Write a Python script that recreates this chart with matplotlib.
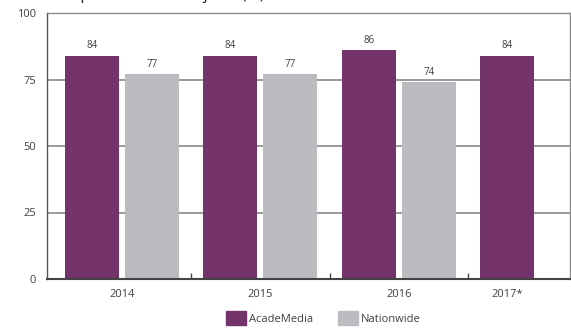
import numpy as np
import matplotlib
matplotlib.use("Agg")
import matplotlib.pyplot as plt
from matplotlib.patches import Patch

# Data
years = ['2014', '2015', '2016', '2017*']
academedia = [84, 84, 86, 84]
nationwide = [77, 77, 74, None]
yticks = [0, 25, 50, 75, 100]

PURPLE = '#74346b'
GREY = '#bbbcbf'
TEXT = '#404040'

plt.rcParams['font.family'] = ['Open Sans', 'DejaVu Sans']

fig = plt.figure(figsize=(5.71, 3.29), dpi=100)
ax = fig.add_axes([47 / 571, 50 / 329, 523 / 571, 266 / 329])

width = 0.39
gap = 0.043
x = np.arange(len(years))
x_purple = x - width / 2 - gap / 2
x_grey = x + width / 2 + gap / 2

ax.bar(x_purple, academedia, width=width, color=PURPLE, zorder=3)
nw_idx = [i for i, v in enumerate(nationwide) if v is not None]
nw_vals = [nationwide[i] for i in nw_idx]
ax.bar(x_grey[nw_idx], nw_vals, width=width, color=GREY, zorder=3)

for xi, v in zip(x_purple, academedia):
    ax.annotate(str(v), (xi, v), xytext=(0, 3), textcoords='offset points',
                ha='center', va='bottom', fontsize=7, color=TEXT)
for i, v in zip(nw_idx, nw_vals):
    ax.annotate(str(v), (x_grey[i], v), xytext=(0, 3), textcoords='offset points',
                ha='center', va='bottom', fontsize=7, color=TEXT)

ax.set_ylim(0, 100)
ax.set_xlim(-0.54, 3.235)
ax.set_yticks(yticks)
ax.yaxis.grid(True, color='#9a9a9a', linewidth=1.4, zorder=0)
ax.tick_params(axis='y', length=0, pad=8, labelsize=8, labelcolor=TEXT)

# category labels: under group centre, last one under its single bar
label_pos = [x[i] if nationwide[i] is not None else x_purple[i] for i in range(len(years))]
ax.set_xticks(label_pos)
ax.set_xticklabels(years)
ax.tick_params(axis='x', length=0, pad=7, labelsize=8, labelcolor=TEXT)
ax.set_xticks(x[:-1] + 0.5, minor=True)
ax.tick_params(axis='x', which='minor', direction='in', length=4, width=1, color='#444444')

for side in ['top', 'right']:
    ax.spines[side].set_color('#8a8a8a')
    ax.spines[side].set_linewidth(1.0)
ax.spines['left'].set_color('#555555')
ax.spines['left'].set_linewidth(1.0)
ax.spines['bottom'].set_color('#444444')
ax.spines['bottom'].set_linewidth(1.5)
ax.spines['bottom'].set_zorder(4)

handles = [Patch(color=PURPLE, label='AcadeMedia'), Patch(color=GREY, label='Nationwide')]
fig.legend(handles=handles, loc='upper left', bbox_to_anchor=(226 / 571, 18 / 329),
           ncol=2, frameon=False, fontsize=8, handlelength=1.8, handleheight=1.6,
           handletextpad=0.25, columnspacing=2.3, borderpad=0, borderaxespad=0,
           labelcolor=TEXT)

# title is cut off at the top edge of the reference
fig.text(265 / 571, 1 + 1 / 329, 'Students passed in all subjects (%)', ha='right',
         va='baseline', fontsize=11.5, color='#222222')

fig.savefig('out.png', dpi=100)
